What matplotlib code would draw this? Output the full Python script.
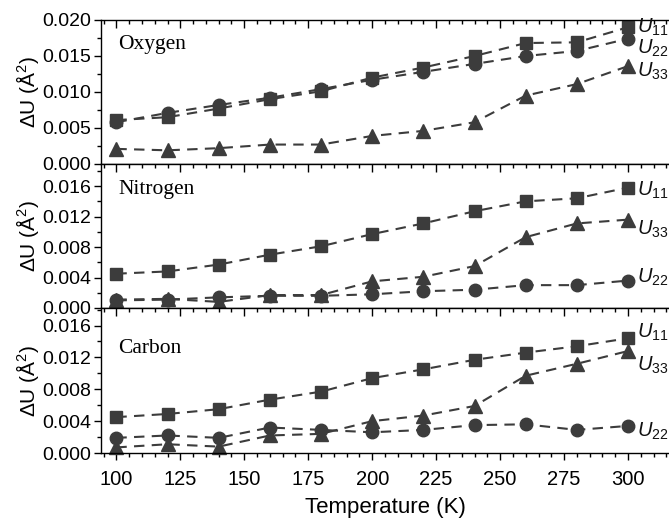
import matplotlib
matplotlib.use("Agg")
import matplotlib.pyplot as plt
from matplotlib.ticker import MultipleLocator, FormatStrFormatter

plt.rcParams['font.family'] = ['Liberation Sans', 'DejaVu Sans']
plt.rcParams['mathtext.fontset'] = 'custom'
plt.rcParams['mathtext.rm'] = 'Liberation Sans'
plt.rcParams['mathtext.it'] = 'Liberation Sans:italic'

temperature = [100, 120, 140, 160, 180, 200, 220, 240, 260, 280, 300]

oxygen_u11 = [0.0061, 0.0065, 0.0077, 0.0090, 0.0101, 0.0120, 0.0134, 0.0150, 0.0168, 0.0169, 0.0190]
oxygen_u22 = [0.0058, 0.0071, 0.0082, 0.0092, 0.0104, 0.0117, 0.0128, 0.0139, 0.0150, 0.0157, 0.0174]
oxygen_u33 = [0.0021, 0.0019, 0.0022, 0.0027, 0.0027, 0.0039, 0.0046, 0.0058, 0.0095, 0.0111, 0.0136]

nitrogen_u11 = [0.0045, 0.0048, 0.0057, 0.0070, 0.0081, 0.0097, 0.0111, 0.0127, 0.0140, 0.0144, 0.0158]
nitrogen_u22 = [0.0010, 0.0011, 0.0014, 0.0016, 0.0016, 0.0018, 0.0022, 0.0024, 0.0030, 0.0030, 0.0036]
nitrogen_u33 = [0.0011, 0.0012, 0.0008, 0.0017, 0.0017, 0.0035, 0.0041, 0.0055, 0.0093, 0.0111, 0.0116]

carbon_u11 = [0.0045, 0.0049, 0.0055, 0.0067, 0.0077, 0.0094, 0.0105, 0.0117, 0.0126, 0.0134, 0.0144]
carbon_u22 = [0.0019, 0.0022, 0.0019, 0.0032, 0.0029, 0.0026, 0.0029, 0.0035, 0.0036, 0.0029, 0.0034]
carbon_u33 = [0.0007, 0.0011, 0.0008, 0.0022, 0.0024, 0.0040, 0.0047, 0.0059, 0.0097, 0.0112, 0.0128]

panel_names = ["Oxygen", "Nitrogen", "Carbon"]
y_ticks = [0.005, 0.004, 0.004]
y_max = [0.020, 0.0189, 0.0182]
name_y = [0.83, 0.82, 0.72]
x_ticks = [100, 125, 150, 175, 200, 225, 250, 275, 300]

panels = [
    (oxygen_u11, oxygen_u22, oxygen_u33),
    (nitrogen_u11, nitrogen_u22, nitrogen_u33),
    (carbon_u11, carbon_u22, carbon_u33),
]
# label y positions (data units) for U11, U22, U33
label_pos = [
    (0.0190, 0.0161, 0.0129),
    (0.0155, 0.0040, 0.0103),
    (0.0152, 0.0027, 0.0110),
]

W, H = 669, 521
fig = plt.figure(figsize=(W / 100, H / 100), dpi=100)
left = 101 / W
width = 1.0 - left
tops = [20, 164, 308]
bottoms = [164, 308, 453]

col = '#3c3c3c'
dash = (0, (5, 3.5))
for i in range(3):
    ax = fig.add_axes([left, (H - bottoms[i]) / H, width, (bottoms[i] - tops[i]) / H])
    u11, u22, u33 = panels[i]
    kw = dict(color=col, lw=1.5, linestyle=dash, clip_on=False)
    ax.plot(temperature, u11, marker='s', ms=8, **kw)
    ax.plot(temperature, u22, marker='o', ms=9, **kw)
    ax.plot(temperature, u33, marker='^', ms=10, **kw)
    ax.set_xlim(94, 316)
    ax.set_ylim(0, y_max[i])
    ax.spines['right'].set_visible(False)
    for s in ['left', 'top', 'bottom']:
        ax.spines[s].set_linewidth(1.0)
    ax.xaxis.set_major_locator(MultipleLocator(25))
    ax.xaxis.set_minor_locator(MultipleLocator(5))
    ax.yaxis.set_major_locator(MultipleLocator(y_ticks[i]))
    ax.yaxis.set_minor_locator(MultipleLocator(y_ticks[i] / 2))
    ax.yaxis.set_major_formatter(FormatStrFormatter('%.3f'))
    ax.tick_params(axis='y', which='major', direction='out', length=5, width=1, labelsize=14, pad=2)
    ax.tick_params(axis='y', which='minor', direction='out', length=3, width=1)
    ax.tick_params(axis='x', which='major', direction='out', length=5, width=1,
                   labelsize=14.5, pad=7)
    ax.tick_params(axis='x', which='minor', direction='out', length=3, width=1)
    if i < 2:
        ax.tick_params(axis='x', labelbottom=False)
    ax.set_ylabel('ΔU (Å$^{2}$)', fontsize=15)
    ax.yaxis.set_label_coords(-0.105, 0.5)
    ax.text(0.03, name_y[i], panel_names[i], transform=ax.transAxes,
            fontsize=15.5, family='Liberation Serif', va='center', ha='left')
    lp = label_pos[i]
    for txt, yv in zip(['$\\mathit{U}_{\\mathit{11}}$', '$\\mathit{U}_{\\mathit{22}}$',
                        '$\\mathit{U}_{\\mathit{33}}$'], lp):
        ax.text(303.5, yv, txt, fontsize=14.5, va='center', ha='left', color='#111111',
                clip_on=False)
    if i == 2:
        ax.set_xlabel('Temperature (K)', fontsize=16, labelpad=6)
    ax.set_xticks(x_ticks)

# inward ticks on the top spines
for a in list(fig.axes):
    sec = a.secondary_xaxis('top')
    sec.xaxis.set_major_locator(MultipleLocator(25))
    sec.xaxis.set_minor_locator(MultipleLocator(5))
    sec.tick_params(axis='x', which='major', direction='in', length=6, width=1, labeltop=False)
    sec.tick_params(axis='x', which='minor', direction='in', length=3, width=1)
    sec.spines['top'].set_visible(False)

fig.savefig('out.png', dpi=100)
